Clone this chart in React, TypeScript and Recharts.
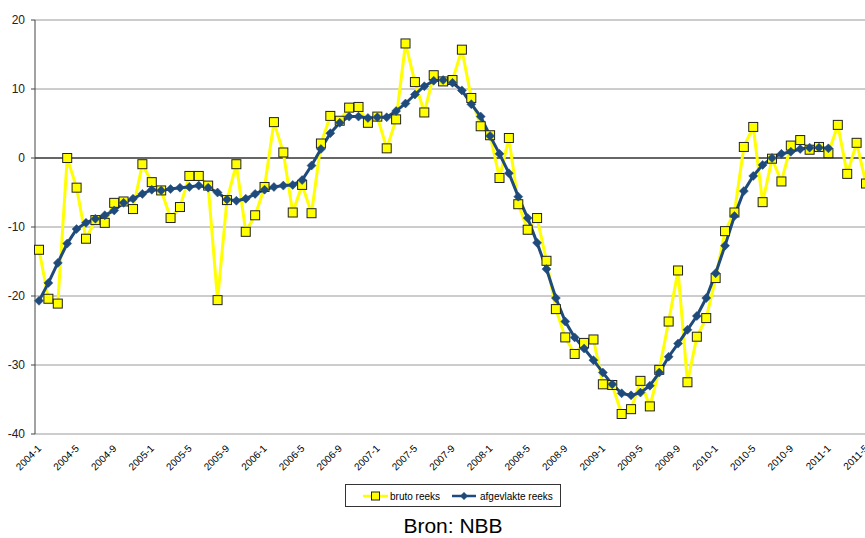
import React from "react";
import {
  LineChart,
  Line,
  XAxis,
  YAxis,
  CartesianGrid,
  ReferenceLine,
} from "recharts";

const FONT = '"Liberation Sans", Arial, sans-serif';

// maanden 2004-1 .. 2011-5
const MONTHS = Array.from({ length: 89 }, (_, i) => `${2004 + Math.floor(i / 12)}-${(i % 12) + 1}`);

const BRUTO = [
  -13.3, -20.4, -21.1, 0.0, -4.3, -11.7, -9.0, -9.4, -6.5, -6.3, -7.4, -0.9,
  -3.5, -4.7, -8.7, -7.1, -2.6, -2.6, -4.0, -20.6, -6.1, -0.9, -10.7, -8.3,
  -4.2, 5.2, 0.8, -7.9, -3.9, -8.0, 2.1, 6.1, 5.4, 7.3, 7.4, 5.1,
  6.0, 1.4, 5.6, 16.6, 11.0, 6.6, 12.0, 11.1, 11.3, 15.7, 8.7, 4.6,
  3.3, -2.9, 2.9, -6.7, -10.4, -8.7, -14.9, -21.9, -26.0, -28.4, -26.8, -26.3,
  -32.8, -32.9, -37.1, -36.4, -32.3, -36.0, -30.7, -23.7, -16.3, -32.5, -25.9, -23.2,
  -17.4, -10.6, -7.9, 1.6, 4.5, -6.4, -0.1, -3.4, 1.8, 2.6, 1.2, 1.6,
  0.7, 4.8, -2.3, 2.2, -3.7,
];

const AFGEVLAKT = [
  -20.7, -18.1, -15.2, -12.4, -10.3, -9.4, -8.8, -8.3, -7.6, -6.5, -5.9, -5.2,
  -4.6, -4.7, -4.5, -4.3, -4.2, -4.0, -4.3, -5.0, -6.0, -6.2, -5.9, -5.2,
  -4.6, -4.2, -4.0, -3.9, -3.2, -1.1, 1.3, 3.6, 5.1, 6.0, 6.0, 5.8,
  5.9, 5.9, 6.8, 7.9, 9.2, 10.4, 11.2, 11.3, 10.9, 9.8, 7.8, 6.0,
  3.2, 0.6, -2.2, -5.6, -8.7, -12.3, -16.1, -20.3, -23.7, -26.0, -27.6, -29.3,
  -31.1, -32.8, -34.1, -34.4, -34.0, -33.0, -31.1, -28.8, -26.9, -24.9, -22.9, -20.3,
  -16.7, -12.7, -8.4, -4.8, -2.6, -1.0, 0.0, 0.6, 0.9, 1.3, 1.5, 1.5,
  1.4,
];

const Y_TICKS = [-40, -30, -20, -10, 0, 10, 20];

const data = MONTHS.map((m, i) => ({
  month: m,
  bruto: BRUTO[i],
  afgevlakt: AFGEVLAKT[i] ?? null,
}));

const YELLOW = "#FFFF00";
const BLUE = "#1F4A7C";

function SquareDot(props: any) {
  const { cx, cy, index } = props;
  if (cx == null || cy == null) return <g key={`s${index}`} />;
  return (
    <rect
      key={`s${index}`}
      x={cx - 4.5}
      y={cy - 4.5}
      width={9}
      height={9}
      fill={YELLOW}
      stroke="#222"
      strokeWidth={1}
    />
  );
}

function DiamondDot(props: any) {
  const { cx, cy, index } = props;
  if (cx == null || cy == null) return <g key={`d${index}`} />;
  const r = 4.5;
  return (
    <path
      key={`d${index}`}
      d={`M${cx},${cy - r}L${cx + r},${cy}L${cx},${cy + r}L${cx - r},${cy}Z`}
      fill={BLUE}
      stroke={BLUE}
      strokeWidth={0.5}
    />
  );
}

function MonthTick({ x, payload }: any) {
  const ax = x + 3;
  const ay = 449;
  return (
    <text
      x={ax}
      y={ay}
      textAnchor="end"
      transform={`rotate(-45, ${ax}, ${ay})`}
      fontSize={10}
      fontFamily={FONT}
      fill="#000"
    >
      {payload.value}
    </text>
  );
}

function LegendBox() {
  return (
    <div
      style={{
        position: "absolute",
        left: 345,
        top: 484,
        width: 214,
        height: 21,
        border: "1px solid #333",
        background: "#fff",
      }}
    >
      <svg width={214} height={21} style={{ display: "block" }}>
        <line x1={17} y1={11} x2={42} y2={11} stroke={YELLOW} strokeWidth={2.5} />
        <rect x={25.5} y={7} width={8} height={8} fill={YELLOW} stroke="#222" strokeWidth={1} />
        <text x={44} y={14.5} fontSize={10} fontFamily={FONT} fill="#000">
          bruto reeks
        </text>
        <line x1={106} y1={11} x2={130} y2={11} stroke={BLUE} strokeWidth={2.5} />
        <path d="M118,7L122,11L118,15L114,11Z" fill={BLUE} />
        <text x={134} y={14.5} fontSize={10} fontFamily={FONT} fill="#000">
          afgevlakte reeks
        </text>
      </svg>
    </div>
  );
}

export default function App() {
  return (
    <div
      style={{
        position: "absolute",
        left: 0,
        top: 0,
        width: 865,
        height: 538,
        overflow: "hidden",
        background: "#fff",
        fontFamily: FONT,
      }}
    >
      <LineChart
        width={870}
        height={482}
        data={data}
        margin={{ top: 20, right: 0, bottom: 0, left: 0 }}
        style={{ overflow: "visible" }}
      >
        <CartesianGrid horizontal vertical={false} stroke="#9a9a9a" />
        <XAxis
          dataKey="month"
          interval={3}
          padding={{ left: 4, right: 4 }}
          axisLine={false}
          tickLine={false}
          height={48}
          tick={<MonthTick />}
        />
        <YAxis
          domain={[-40, 20]}
          ticks={Y_TICKS}
          width={35}
          tickSize={4}
          tickMargin={6}
          axisLine={{ stroke: "#444" }}
          tickLine={{ stroke: "#444" }}
          tick={{ fontSize: 12, fontFamily: FONT, fill: "#222" }}
        />
        <ReferenceLine y={0} stroke="#000" strokeWidth={1} />
        <Line
          dataKey="bruto"
          name="bruto reeks"
          stroke={YELLOW}
          strokeWidth={3}
          dot={SquareDot}
          activeDot={false}
          isAnimationActive={false}
        />
        <Line
          dataKey="afgevlakt"
          name="afgevlakte reeks"
          stroke={BLUE}
          strokeWidth={3}
          dot={DiamondDot}
          activeDot={false}
          isAnimationActive={false}
        />
      </LineChart>
      <LegendBox />
      <div
        style={{
          position: "absolute",
          left: 0,
          width: 906,
          top: 514,
          textAlign: "center",
          fontSize: 21,
          fontFamily: FONT,
          color: "#000",
        }}
      >
        Bron: NBB
      </div>
    </div>
  );
}
